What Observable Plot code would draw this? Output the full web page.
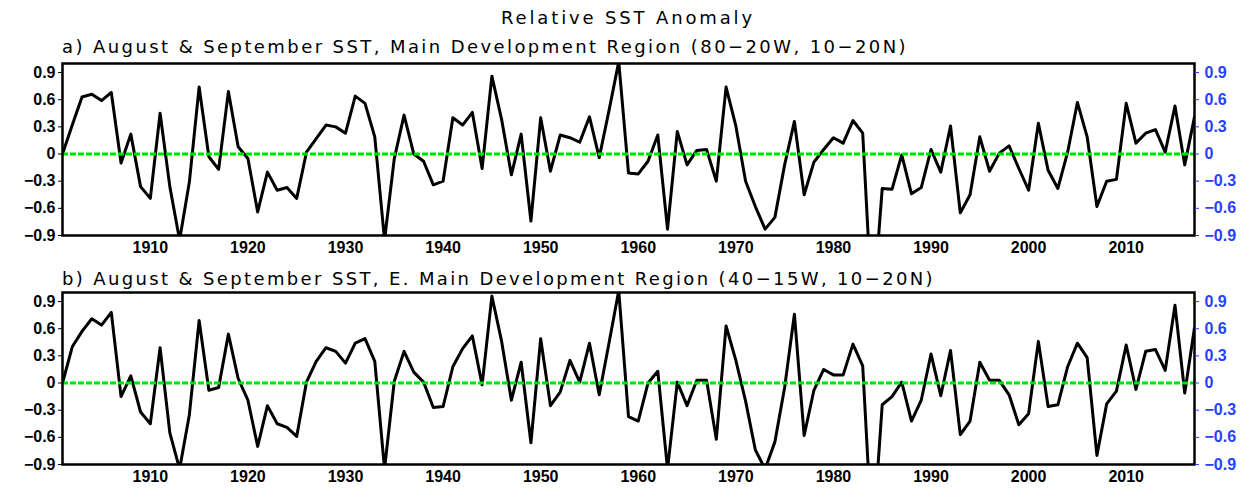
<!DOCTYPE html>
<html>
<head>
<meta charset="utf-8">
<script src="https://cdn.jsdelivr.net/npm/d3@7"></script>
<script src="https://cdn.jsdelivr.net/npm/@observablehq/plot@0.6"></script>
<style>
  html, body { margin: 0; padding: 0; background: #fff; }
  body { width: 1258px; height: 498px; position: relative; overflow: hidden; font-family: "DejaVu Sans", sans-serif; }
  .t { position: absolute; font-size: 18px; white-space: nowrap; line-height: 1; color: #000; z-index: 2; }
  .panel { position: absolute; left: 0; z-index: 1; }
</style>
</head>
<body>
<div class="t" id="tm" data-x0="501" data-x1="755" style="top:9px">Relative SST Anomaly</div>
<div class="t" id="ta" data-x0="62" data-x1="908" style="top:38px">a) August &amp; September SST, Main Development Region (80−20W, 10−20N)</div>
<div class="panel" id="pa" style="top:55px"></div>
<div class="t" id="tb" data-x0="62" data-x1="935" style="top:270px">b) August &amp; September SST, E. Main Development Region (40−15W, 10−20N)</div>
<div class="panel" id="pb" style="top:284px"></div>
<script>
const firstYear = 1901;
const lastYear = 2017;
const xTicks = [1910, 1920, 1930, 1940, 1950, 1960, 1970, 1980, 1990, 2000, 2010];
const yTicks = [-0.9, -0.6, -0.3, 0, 0.3, 0.6, 0.9];

// a) Main Development Region (80-20W, 10-20N), 1901-2017
const mdrValues = [
  0.00, 0.32, 0.63, 0.66, 0.59, 0.68, -0.10, 0.22, -0.36, -0.49,   // 1901-1910
  0.45, -0.36, -0.95, -0.31, 0.74, -0.03, -0.17, 0.69, 0.08, -0.05, // 1911-1920
  -0.64, -0.20, -0.40, -0.37, -0.49, 0.02, 0.17, 0.32, 0.30, 0.23,  // 1921-1930
  0.64, 0.56, 0.19, -0.95, -0.05, 0.43, 0.00, -0.08, -0.34, -0.30,  // 1931-1940
  0.40, 0.32, 0.46, -0.16, 0.86, 0.38, -0.23, 0.22, -0.74, 0.40,    // 1941-1950
  -0.19, 0.21, 0.18, 0.13, 0.41, -0.04, 0.48, 1.02, -0.21, -0.22,   // 1951-1960
  -0.08, 0.21, -0.83, 0.25, -0.12, 0.04, 0.05, -0.30, 0.74, 0.31,   // 1961-1970
  -0.30, -0.58, -0.83, -0.70, -0.12, 0.36, -0.45, -0.09, 0.05, 0.18,// 1971-1980
  0.12, 0.37, 0.23, -1.80, -0.38, -0.39, -0.01, -0.44, -0.37, 0.05, // 1981-1990
  -0.20, 0.31, -0.65, -0.45, 0.19, -0.19, 0.01, 0.09, -0.16, -0.40, // 1991-2000
  0.34, -0.18, -0.38, 0.02, 0.57, 0.19, -0.58, -0.30, -0.28, 0.56,  // 2001-2010
  0.12, 0.23, 0.27, 0.02, 0.53, -0.12, 0.41                         // 2011-2017
];

// b) E. Main Development Region (40-15W, 10-20N), 1901-2017
const emdrValues = [
  0.00, 0.40, 0.57, 0.71, 0.64, 0.78, -0.15, 0.08, -0.32, -0.45,    // 1901-1910
  0.39, -0.55, -0.95, -0.35, 0.69, -0.08, -0.05, 0.54, 0.05, -0.19, // 1911-1920
  -0.70, -0.25, -0.45, -0.49, -0.59, 0.01, 0.24, 0.39, 0.35, 0.22,  // 1921-1930
  0.44, 0.49, 0.24, -0.95, 0.02, 0.35, 0.12, 0.01, -0.27, -0.26,    // 1931-1940
  0.18, 0.38, 0.52, -0.02, 0.96, 0.46, -0.19, 0.23, -0.66, 0.49,    // 1941-1950
  -0.25, -0.10, 0.25, 0.01, 0.44, -0.13, 0.44, 1.02, -0.37, -0.42,  // 1951-1960
  0.00, 0.13, -0.95, 0.01, -0.25, 0.03, 0.03, -0.62, 0.63, 0.25,    // 1961-1970
  -0.20, -0.74, -0.95, -0.65, -0.05, 0.76, -0.58, -0.08, 0.15, 0.09,// 1971-1980
  0.09, 0.43, 0.19, -1.80, -0.24, -0.15, 0.01, -0.42, -0.19, 0.32,  // 1981-1990
  -0.14, 0.36, -0.57, -0.42, 0.23, 0.03, 0.03, -0.13, -0.46, -0.34, // 1991-2000
  0.46, -0.26, -0.24, 0.18, 0.44, 0.28, -0.80, -0.23, -0.09, 0.42,  // 2001-2010
  -0.07, 0.35, 0.37, 0.14, 0.86, -0.11, 0.61                        // 2011-2017
];

const years = d3.range(firstYear, lastYear + 1);
const fmt = d => d === 0 ? "0" : d.toFixed(1).replace("-", "\u2212");

function panel(values) {
  const data = years.map((y, i) => ({year: y, v: values[i]}));
  return Plot.plot({
    width: 1258,
    height: 205,
    marginLeft: 62,
    marginRight: 64,
    marginTop: 8,
    marginBottom: 25,
    x: {domain: [firstYear, lastYear]},
    y: {domain: [-0.9, 1.0]},
    style: {fontFamily: "Liberation Sans", fontSize: "16px", fontWeight: "bold", background: "transparent", color: "black", overflow: "visible"},
    marks: [
      Plot.line(data, {x: "year", y: "v", stroke: "black", strokeWidth: 3, clip: true}),
      Plot.ruleY([0], {stroke: "#00e000", strokeWidth: 3, strokeDasharray: "6,2"}),
      Plot.frame({stroke: "black", strokeWidth: 2.5}),
      Plot.axisX({ticks: xTicks, tickSize: 0, tickPadding: 6, tickFormat: d => String(d), fontSize: 16, label: null}),
      Plot.axisY({anchor: "left", ticks: yTicks, tickSize: 4, tickPadding: 3, tickFormat: fmt, fontSize: 16, label: null}),
      Plot.axisY({anchor: "right", ticks: yTicks, tickSize: 4, tickPadding: 6, tickFormat: fmt, fontSize: 16, label: null, fill: "#2840ff", stroke: "#2840ff"})
    ]
  });
}

document.getElementById("pa").appendChild(panel(mdrValues));
document.getElementById("pb").appendChild(panel(emdrValues));

// spread each title so that it spans the same width as in the reference
for (const el of document.querySelectorAll(".t")) {
  const x0 = +el.dataset.x0, x1 = +el.dataset.x1;
  el.style.left = x0 + "px";
  const n = el.textContent.length;
  const w = el.getBoundingClientRect().width;
  el.style.letterSpacing = ((x1 - x0 - w) / n) + "px";
}
</script>
</body>
</html>
